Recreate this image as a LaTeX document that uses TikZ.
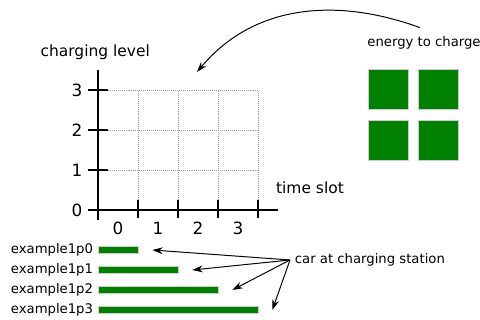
\documentclass[tikz,border=0pt]{standalone}
\usepackage{fontspec}
\setmainfont{DejaVu Sans}
\usetikzlibrary{arrows.meta}

\begin{document}
\begin{tikzpicture}[
    axis/.style={line width=1.2pt},
    bar/.style={draw=gray!40, fill=green!50!black, line width=0.2pt,
        minimum height=1.75mm, inner sep=0pt, anchor=west},
    block/.style={draw=gray!40, fill=green!50!black, line width=0.4pt,
        minimum size=1cm, inner sep=0pt},
    pointer/.style={-{Stealth[length=2.6mm,width=1.7mm]}, line width=0.7pt},
    lbl/.style={font=\fontsize{9.4}{11}\selectfont},
    tick/.style={font=\fontsize{12}{14}\selectfont}]
    \useasboundingbox (-2.45,-2.75) rectangle (9.55,5.25);

    \draw[gray!75, line width=0.6pt, dash pattern=on 0.7pt off 0.7pt] (0,0) grid (4,3);
    \draw[axis] (0,-0.25) -- (0,3.5);
    \draw[axis] (-0.25,0) -- (4.5,0);
    \foreach \y in {0,1,2,3}
        \draw[axis] (-0.25,\y) node[left, tick] (ytick\y) {\y} -- (0.25,\y);
    \foreach \x in {1,2,3,4}
        \draw[axis] (\x,0.25) -- (\x,-0.2);
    \foreach \t in {0,1,2,3}
        \node[tick] (xtick\t) at (\t+0.5,-0.45) {\t};

    \node[font=\fontsize{11}{13}\selectfont] (level) at (-0.07,3.95) {charging level};
    \node[font=\fontsize{11}{13}\selectfont] (slot) at (5.3,0.55) {time slot};

    % Energieblöcke rechts oben, daneben der Bogen zurück ins Raster.
    \node[block] (e1) at (7.25,3.025) {};
    \node[block] (e2) at (8.5,3.025) {};
    \node[block] (e3) at (7.25,1.75) {};
    \node[block] (e4) at (8.5,1.75) {};
    \node[lbl] (energy) at (8.15,4.175) {energy to charge};
    \coordinate (gridtop) at (2.475,3.45);
    \draw[pointer] ([xshift=-1mm,yshift=1mm]energy.north) to[out=160, in=50] (gridtop);

    \foreach \p in {0,1,2,3} {
        \node[bar, minimum width=\p cm+1cm] (bar\p) at (0,-1-0.5*\p) {};
        \node[lbl, left=0pt] (ex\p) at (bar\p.west) {example1p\p};
    }
    \node[lbl, anchor=west] (car) at (4.8,-1.25) {car at charging station};
    \foreach \p in {0,1,2,3}
        \draw[pointer] (car.west) -- ([xshift=3.5mm]bar\p.east);
\end{tikzpicture}
\end{document}
